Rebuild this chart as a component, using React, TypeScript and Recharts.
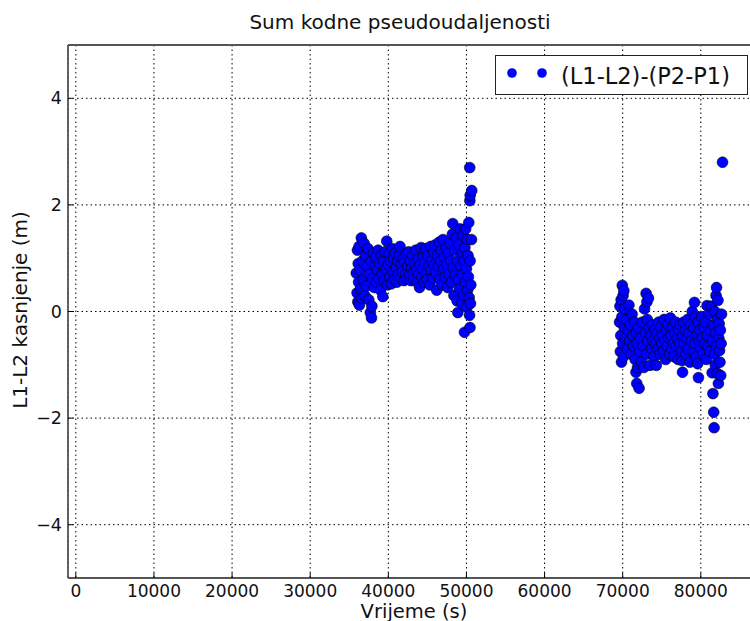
import { ScatterChart, Scatter, XAxis, YAxis, CartesianGrid } from 'recharts';

// time (s) / delay (m) pairs in pieces
const arcA: [number, number][] = [
  [35900, 0.72], [36000, 0.35], [36050, 1.15], [36100, 0.18], [36150, 0.9], [36200, 0.55],
  [36250, 1.22], [36300, 0.12], [36350, 0.78], [36450, 0.42], [36550, 1.38], [36600, 0.25],
  [36700, 0.95], [36800, 0.6], [36900, 1.28], [37000, 0.3], [37100, 1.05], [37200, 0.48],
  [37300, 0.85], [37400, 1.18], [37500, 0.22], [37600, 0.7], [37700, -0.02], [37800, 0.95],
  [37850, -0.12], [37900, 0.1], [38000, 0.62],
];
const arcB: [number, number][] = [
  [38100, 1.1], [38200, 0.45], [38300, 0.85], [38400, 1.02], [38500, 0.55], [38600, 0.78],
  [38700, 1.15], [38800, 0.62], [38900, 0.9], [39000, 0.4], [39100, 1.05], [39200, 0.7],
  [39300, 0.28], [39400, 0.95], [39500, 0.58], [39600, 1.12], [39700, 0.8], [39800, 1.32],
  [39900, 0.5], [40000, 0.88], [40100, 1.08], [40200, 0.66], [40300, 0.95], [40400, 0.52],
  [40500, 1.18], [40600, 0.75], [40700, 0.98], [40800, 0.6], [40900, 1.1], [41000, 0.82],
  [41100, 0.55], [41200, 0.95], [41300, 0.7], [41400, 1.05], [41500, 1.22], [41600, 0.62],
  [41700, 0.88], [41800, 0.75], [41900, 1.0], [42000, 0.58],
];
const arcC: [number, number][] = [
  [42100, 0.92], [42200, 0.7], [42300, 1.08], [42400, 0.62], [42500, 0.85], [42600, 1.12],
  [42700, 0.68], [42800, 0.95], [42900, 0.58], [43000, 0.82], [43100, 1.05], [43200, 0.72],
  [43300, 0.6], [43400, 0.9], [43500, 1.15], [43600, 0.78], [43700, 0.55], [43800, 0.98],
  [43900, 0.7], [44000, 0.45], [44100, 0.88], [44200, 1.2], [44300, 0.65], [44400, 0.8],
  [44500, 1.02], [44600, 0.55], [44700, 0.92], [44800, 1.18], [44900, 0.72], [45000, 0.6],
  [45100, 1.05], [45200, 0.85], [45300, 0.5], [45400, 1.22], [45500, 0.78], [45600, 0.95],
  [45700, 0.62], [45800, 1.12], [45900, 0.88], [46000, 1.25],
];
const arcD: [number, number][] = [
  [46100, 0.72], [46200, 0.4], [46300, 1.05], [46400, 0.85], [46500, 1.3], [46600, 0.6],
  [46700, 0.95], [46800, 1.15], [46900, 0.5], [47000, 1.35], [47100, 0.8], [47200, 1.02],
  [47300, 0.65], [47400, 1.2], [47500, 0.88], [47600, 0.45], [47700, 1.1], [47800, 0.7],
  [47900, 1.28], [48000, 0.95], [48100, 0.55], [48200, 1.45], [48250, 1.65], [48300, 0.82],
  [48400, 0.3], [48500, 1.15], [48600, 0.68], [48700, 1.38], [48800, 0.2], [48850, 0.95],
  [48900, -0.02], [48950, 0.6],
];
const arcE: [number, number][] = [
  [49000, 1.25], [49100, 0.42], [49200, 1.55], [49300, 0.85], [49400, 0.15], [49450, 1.1],
  [49500, 0.7], [49600, 1.42], [49650, 0.3], [49700, 0.95], [49750, -0.39], [49800, 1.2],
  [49850, 0.55], [49900, 1.55], [50000, 0.8], [50050, 0.08], [50100, 1.35], [50150, 0.4],
  [50200, 1.05], [50250, 0.65], [50300, 1.67], [50350, 0.26], [50400, -0.07], [50420, 2.7],
  [50440, 2.08], [50450, -0.3], [50470, 0.95], [50480, 2.18], [50520, 0.15], [50560, 0.5],
  [50650, 1.35], [50680, 2.27],
];
const arcF: [number, number][] = [
  [69600, -0.2], [69650, 0.1], [69700, -0.75], [69750, -0.45], [69800, 0.22], [69850, -0.95],
  [69900, -0.1], [69950, 0.49], [70000, -0.6], [70050, 0.3], [70100, -0.85], [70150, 0.39],
  [70200, -0.3], [70300, 0.05], [70400, -0.5], [70500, -0.15], [70600, -0.7], [70700, -0.35],
  [70800, 0.12], [70900, -0.55], [71000, -0.25], [71100, -0.8], [71200, -0.05], [71300, -0.45],
  [71400, -0.65],
];
const arcG: [number, number][] = [
  [71500, -0.2], [71600, -0.9], [71700, -1.14], [71750, -0.4], [71800, -1.35], [71850, -0.6],
  [71900, -1.05], [72000, -0.3], [72100, -1.44], [72200, -0.75], [72300, -0.5], [72400, -0.95],
  [72500, -0.2], [72600, -0.65], [72700, -1.05], [72800, 0.05], [72900, -0.4], [73000, 0.34],
  [73050, -0.8], [73100, 0.18], [73150, -0.15], [73200, -0.55], [73300, 0.25], [73400, -0.3],
  [73500, -1.01],
];
const arcH: [number, number][] = [
  [73600, -0.45], [73700, -0.7], [73800, -0.25], [73900, -0.55], [74000, -0.85], [74100, -0.35],
  [74200, -0.6], [74300, -1.01], [74400, -0.4], [74500, -0.7], [74600, -0.2], [74700, -0.5],
  [74800, -0.8], [74900, -0.3], [75000, -0.6], [75100, -0.45], [75200, -0.75], [75300, -0.15],
  [75400, -0.55], [75500, -0.9], [75600, -0.35], [75700, -0.65], [75800, -0.25], [75900, -0.5],
  [76000, -0.8], [76100, -0.12], [76200, -0.45], [76300, -0.7], [76400, -0.3], [76500, -0.6],
  [76600, -0.85], [76700, -0.4], [76800, -0.2], [76900, -0.65], [77000, -0.5], [77100, -0.9],
  [77200, -0.35], [77300, -0.6], [77400, -0.25], [77500, -0.75],
];
const arcI: [number, number][] = [
  [77600, -0.92], [77660, -1.14], [77700, -0.45], [77800, -0.2], [77900, -0.6], [78000, -0.35],
  [78100, -0.8], [78200, -0.5], [78300, -0.15], [78400, -0.7], [78500, -0.4], [78600, -0.95],
  [78700, -0.25], [78800, -0.55], [78900, 0.0], [79000, -0.75], [79100, -0.3], [79190, 0.17],
  [79250, -0.6], [79300, -0.1], [79400, -0.85], [79500, -0.45], [79600, -0.98], [79650, -0.2],
  [79700, -1.24], [79800, -0.55], [79900, -0.35], [80000, -0.7], [80100, -0.1], [80200, -0.5],
  [80300, -0.8], [80400, -0.3], [80500, -0.6],
];
const arcJ: [number, number][] = [
  [80600, -0.2], [80700, -0.9], [80800, 0.11], [80860, -0.45], [80950, -0.65], [81050, -0.05],
  [81150, -0.75], [81250, -0.35], [81350, 0.1], [81450, -1.15], [81500, -0.55], [81550, -1.54],
  [81600, -0.25], [81650, -1.89], [81700, -2.18], [81750, -0.8], [81800, 0.0], [81850, -1.0],
  [81900, -0.4], [81950, 0.3], [82000, -0.65], [82010, 0.45], [82100, -1.16], [82150, -0.15],
  [82200, 0.21], [82250, -1.35], [82300, -0.5], [82350, -0.23], [82400, -0.73], [82450, -0.95],
  [82500, -0.35], [82550, -1.2], [82600, -0.6], [82650, -0.05], [82780, 2.8],
];

const xTicks = [0, 10000, 20000, 30000, 40000, 50000, 60000, 70000, 80000];
const yTicks = [-4, -2, 0, 2, 4];
const seriesName = '(L1-L2)-(P2-P1)';
const title = 'Sum kodne pseudoudaljenosti';
const xLabel = 'Vrijeme (s)';
const yLabel = 'L1-L2 kasnjenje (m)';

const points = [arcA, arcB, arcC, arcD, arcE, arcF, arcG, arcH, arcI, arcJ]
  .flat()
  .map(([t, v]) => ({ t, v }));

const FONT = '"DejaVu Sans", sans-serif';
const SPINE = '#555';
const BLUE = '#0000ff';

const fmt = (v: number) => (v < 0 ? `\u2212${Math.abs(v)}` : `${v}`);

function BottomTick({ x, y, payload }: any) {
  return (
    <g>
      <line x1={x} x2={x} y1={y} y2={y - 5} stroke="#000" strokeWidth={1} />
      <text x={x} y={y + 19} textAnchor="middle" fontSize={17} fontFamily={FONT} fill="#111">
        {fmt(payload.value)}
      </text>
    </g>
  );
}

function TopTick({ x, y }: any) {
  return <line x1={x} x2={x} y1={y} y2={y + 5} stroke="#000" strokeWidth={1} />;
}

function LeftTick({ x, y, payload }: any) {
  return (
    <g>
      <line x1={x} x2={x + 5} y1={y} y2={y} stroke="#000" strokeWidth={1} />
      <text x={x - 6} y={y + 6} textAnchor="end" fontSize={17.5} fontFamily={FONT} fill="#111">
        {fmt(payload.value)}
      </text>
    </g>
  );
}

const Dot = (p: any) => (
  <circle cx={p.cx} cy={p.cy} r={5.4} fill={BLUE} stroke="#000" strokeWidth={0.6} />
);

export default function App() {
  return (
    <div
      style={{
        position: 'absolute',
        left: 0,
        top: 0,
        width: 750,
        height: 621,
        overflow: 'hidden',
        background: '#fff',
      }}
    >
      <ScatterChart width={770} height={621} margin={{ top: 35, right: 14.5, bottom: 13, left: 8 }}>
        <CartesianGrid stroke="#000" strokeWidth={1} strokeDasharray="1.5 3" />
        <XAxis
          type="number"
          dataKey="t"
          domain={[-1000, 87000]}
          ticks={xTicks}
          allowDataOverflow
          height={30}
          tickSize={0}
          tickMargin={0}
          tickLine={false}
          tick={<BottomTick />}
          axisLine={{ stroke: SPINE, strokeWidth: 1.8 }}
        />
        <XAxis
          xAxisId="top"
          orientation="top"
          type="number"
          domain={[-1000, 87000]}
          ticks={xTicks}
          allowDataOverflow
          height={10}
          tickSize={0}
          tickMargin={0}
          tickLine={false}
          tick={<TopTick />}
          axisLine={{ stroke: SPINE, strokeWidth: 1.8 }}
        />
        <YAxis
          type="number"
          dataKey="v"
          domain={[-5, 5]}
          ticks={yTicks}
          allowDataOverflow
          width={60}
          tickSize={0}
          tickMargin={0}
          tickLine={false}
          tick={<LeftTick />}
          axisLine={{ stroke: SPINE, strokeWidth: 1.8 }}
        />
        <Scatter name={seriesName} data={points} shape={Dot} isAnimationActive={false} />
      </ScatterChart>
      <svg
        width={750}
        height={621}
        style={{ position: 'absolute', left: 0, top: 0, pointerEvents: 'none' }}
        fontFamily={FONT}
      >
        <text x={400} y={29} textAnchor="middle" fontSize={20} fill="#111">
          {title}
        </text>
        <text x={414} y={618} textAnchor="middle" fontSize={19.5} fill="#111">
          {xLabel}
        </text>
        <text
          x={27}
          y={310}
          textAnchor="middle"
          fontSize={20}
          fill="#111"
          transform="rotate(-90 27 310)"
        >
          {yLabel}
        </text>
        <rect x={495.5} y={55.5} width={252} height={39} fill="#fff" stroke="#222" strokeWidth={1} />
        <circle cx={512} cy={73} r={4.8} fill={BLUE} />
        <circle cx={542} cy={73} r={4.8} fill={BLUE} />
        <text x={561} y={84} fontSize={22.5} fill="#111">
          {seriesName}
        </text>
      </svg>
    </div>
  );
}
